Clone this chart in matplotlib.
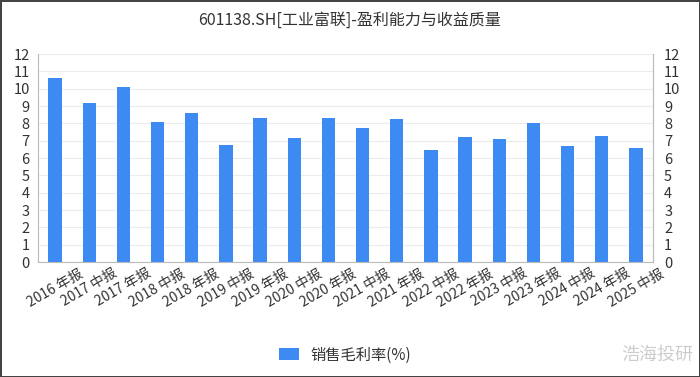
import matplotlib
matplotlib.use('Agg')
import matplotlib.pyplot as plt
import numpy as np

plt.rcParams['font.family'] = ['Noto Sans CJK SC', 'DejaVu Sans']

# Dữ liệu
bao_cao = ['2016 年报', '2017 中报', '2017 年报', '2018 中报', '2018 年报', '2019 中报',
           '2019 年报', '2020 中报', '2020 年报', '2021 中报', '2021 年报', '2022 中报',
           '2022 年报', '2023 中报', '2023 年报', '2024 中报', '2024 年报', '2025 中报']
mao_li_lv = [10.6, 9.2, 10.1, 8.1, 8.6, 6.75, 8.3, 7.15, 8.3, 7.75, 8.25, 6.45,
             7.2, 7.1, 8.0, 6.7, 7.25, 6.55]

fig = plt.figure(figsize=(7, 3.77), dpi=100)
fig.patch.set_edgecolor('#444444')
fig.patch.set_linewidth(2)
ax = fig.add_axes([38/700, 1 - 262/377, (653-38)/700, (262-54)/377])

x = np.arange(len(bao_cao))
ax.bar(x, mao_li_lv, width=0.39, color='#3d8bf2', zorder=3, label='销售毛利率(%)')
ax.set_xlim(-0.5, len(bao_cao) - 0.5)
ax.set_ylim(0, 12)
ax.set_yticks(range(13))
ax.grid(axis='y', color='#ececec', linewidth=0.8, zorder=0)
ax.tick_params(axis='y', length=0, labelsize=10.5, labelcolor='#333333', pad=6)
ax.set_xticks(x)
ax.set_xticklabels(bao_cao, rotation=30, ha='center', va='top',
                   fontsize=10, color='#333333')
ax.tick_params(axis='x', length=0, pad=3)
ax.spines['top'].set_visible(False)
for s in ['left', 'right', 'bottom']:
    ax.spines[s].set_color('#bbbbbb')

ax2 = ax.twinx()
ax2.set_ylim(0, 12)
ax2.set_yticks(range(13))
ax2.tick_params(axis='y', length=0, labelsize=10.5, labelcolor='#333333', pad=8)
for s in ['top', 'left', 'bottom']:
    ax2.spines[s].set_visible(False)
ax2.spines['right'].set_color('#bbbbbb')

fig.text(0.5, 1 - 20/377, '601138.SH[工业富联]-盈利能力与收益质量', ha='center', va='center',
         fontsize=11.5, color='#333333')

ax.legend(loc='center', bbox_to_anchor=(345/700, 1 - 355/377), bbox_transform=fig.transFigure,
          frameon=False, fontsize=11, handlelength=1.3, handleheight=0.8, labelcolor='#333333')

fig.text(0.99, 1 - 355/377, '浩海投研', ha='right', va='center', fontsize=13, color='#cccccc')

fig.savefig('out.png', dpi=100)
